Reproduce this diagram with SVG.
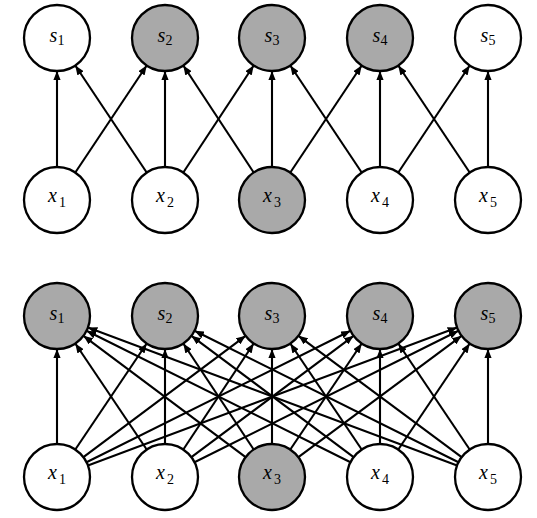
<svg xmlns="http://www.w3.org/2000/svg" width="537" height="518" viewBox="0 0 537 518">
<defs>
<marker id="ah" viewBox="0 0 10 8" refX="10" refY="4" markerWidth="4.5" markerHeight="3.6" markerUnits="strokeWidth" orient="auto">
<path d="M0,0 L10,4 L0,8 z" fill="#000"/>
</marker>
</defs>
<style>
.n{fill:#fff;stroke:#000;stroke-width:2.3}
.g{fill:#a9a9a9}
.e line{stroke:#000;stroke-width:2.1;marker-end:url(#ah)}
.t{font-family:'Liberation Serif',serif;font-size:20px;text-anchor:middle}
.v{font-style:italic}
.sub{font-size:14px}
</style>
<rect width="537" height="518" fill="#fff"/>
<g id="connectors" class="e">
<line x1="57" y1="167" x2="57" y2="71"/>
<line x1="75.3" y1="172.5" x2="146.7" y2="65.5"/>
<line x1="146.7" y1="172.5" x2="75.3" y2="65.5"/>
<line x1="165" y1="167" x2="165" y2="71"/>
<line x1="183.3" y1="172.5" x2="253.7" y2="65.5"/>
<line x1="253.7" y1="172.5" x2="183.3" y2="65.5"/>
<line x1="272" y1="167" x2="272" y2="71"/>
<line x1="290.3" y1="172.5" x2="361.7" y2="65.5"/>
<line x1="361.7" y1="172.5" x2="290.3" y2="65.5"/>
<line x1="380" y1="167" x2="380" y2="71"/>
<line x1="398.3" y1="172.5" x2="469.7" y2="65.5"/>
<line x1="469.7" y1="172.5" x2="398.3" y2="65.5"/>
<line x1="488" y1="167" x2="488" y2="71"/>

<line x1="57" y1="444" x2="57" y2="349"/>
<line x1="75.3" y1="449.5" x2="146.7" y2="343.5"/>
<line x1="83.4" y1="457.2" x2="245.6" y2="335.8"/>
<line x1="86.5" y1="462.2" x2="350.5" y2="330.8"/>
<line x1="87.9" y1="465.4" x2="457.1" y2="327.6"/>
<line x1="146.7" y1="449.5" x2="75.3" y2="343.5"/>
<line x1="165" y1="444" x2="165" y2="349"/>
<line x1="183.3" y1="449.5" x2="253.7" y2="343.5"/>
<line x1="191.4" y1="457.2" x2="353.6" y2="335.8"/>
<line x1="194.5" y1="462.2" x2="458.5" y2="330.8"/>
<line x1="245.6" y1="457.2" x2="83.4" y2="335.8"/>
<line x1="253.7" y1="449.5" x2="183.3" y2="343.5"/>
<line x1="272" y1="444" x2="272" y2="349"/>
<line x1="290.3" y1="449.5" x2="361.7" y2="343.5"/>
<line x1="298.4" y1="457.2" x2="461.6" y2="335.8"/>
<line x1="350.5" y1="462.2" x2="86.5" y2="330.8"/>
<line x1="353.6" y1="457.2" x2="191.4" y2="335.8"/>
<line x1="361.7" y1="449.5" x2="290.3" y2="343.5"/>
<line x1="380" y1="444" x2="380" y2="349"/>
<line x1="398.3" y1="449.5" x2="469.7" y2="343.5"/>
<line x1="457.1" y1="465.4" x2="87.9" y2="327.6"/>
<line x1="458.5" y1="462.2" x2="194.5" y2="330.8"/>
<line x1="461.6" y1="457.2" x2="298.4" y2="335.8"/>
<line x1="469.7" y1="449.5" x2="398.3" y2="343.5"/>
<line x1="488" y1="444" x2="488" y2="349"/>
</g>

<g id="top-s1"><circle class="n" cx="57" cy="38" r="33"/><text class="t" x="57" y="42"><tspan class="v">s</tspan><tspan class="sub" dy="3">1</tspan></text></g>
<g id="top-s2"><circle class="n g" cx="165" cy="38" r="33"/><text class="t" x="165" y="42"><tspan class="v">s</tspan><tspan class="sub" dy="3">2</tspan></text></g>
<g id="top-s3"><circle class="n g" cx="272" cy="38" r="33"/><text class="t" x="272" y="42"><tspan class="v">s</tspan><tspan class="sub" dy="3">3</tspan></text></g>
<g id="top-s4"><circle class="n g" cx="380" cy="38" r="33"/><text class="t" x="380" y="42"><tspan class="v">s</tspan><tspan class="sub" dy="3">4</tspan></text></g>
<g id="top-s5"><circle class="n" cx="488" cy="38" r="33"/><text class="t" x="488" y="42"><tspan class="v">s</tspan><tspan class="sub" dy="3">5</tspan></text></g>

<g id="top-x1"><circle class="n" cx="57" cy="200" r="33"/><text class="t" x="57" y="202"><tspan class="v">x</tspan><tspan class="sub" dx="2" dy="5">1</tspan></text></g>
<g id="top-x2"><circle class="n" cx="165" cy="200" r="33"/><text class="t" x="165" y="202"><tspan class="v">x</tspan><tspan class="sub" dx="2" dy="5">2</tspan></text></g>
<g id="top-x3"><circle class="n g" cx="272" cy="200" r="33"/><text class="t" x="272" y="202"><tspan class="v">x</tspan><tspan class="sub" dx="2" dy="5">3</tspan></text></g>
<g id="top-x4"><circle class="n" cx="380" cy="200" r="33"/><text class="t" x="380" y="202"><tspan class="v">x</tspan><tspan class="sub" dx="2" dy="5">4</tspan></text></g>
<g id="top-x5"><circle class="n" cx="488" cy="200" r="33"/><text class="t" x="488" y="202"><tspan class="v">x</tspan><tspan class="sub" dx="2" dy="5">5</tspan></text></g>

<g id="bot-s1"><circle class="n g" cx="57" cy="316" r="33"/><text class="t" x="57" y="320"><tspan class="v">s</tspan><tspan class="sub" dy="3">1</tspan></text></g>
<g id="bot-s2"><circle class="n g" cx="165" cy="316" r="33"/><text class="t" x="165" y="320"><tspan class="v">s</tspan><tspan class="sub" dy="3">2</tspan></text></g>
<g id="bot-s3"><circle class="n g" cx="272" cy="316" r="33"/><text class="t" x="272" y="320"><tspan class="v">s</tspan><tspan class="sub" dy="3">3</tspan></text></g>
<g id="bot-s4"><circle class="n g" cx="380" cy="316" r="33"/><text class="t" x="380" y="320"><tspan class="v">s</tspan><tspan class="sub" dy="3">4</tspan></text></g>
<g id="bot-s5"><circle class="n g" cx="488" cy="316" r="33"/><text class="t" x="488" y="320"><tspan class="v">s</tspan><tspan class="sub" dy="3">5</tspan></text></g>

<g id="bot-x1"><circle class="n" cx="57" cy="477" r="33"/><text class="t" x="57" y="479"><tspan class="v">x</tspan><tspan class="sub" dx="2" dy="5">1</tspan></text></g>
<g id="bot-x2"><circle class="n" cx="165" cy="477" r="33"/><text class="t" x="165" y="479"><tspan class="v">x</tspan><tspan class="sub" dx="2" dy="5">2</tspan></text></g>
<g id="bot-x3"><circle class="n g" cx="272" cy="477" r="33"/><text class="t" x="272" y="479"><tspan class="v">x</tspan><tspan class="sub" dx="2" dy="5">3</tspan></text></g>
<g id="bot-x4"><circle class="n" cx="380" cy="477" r="33"/><text class="t" x="380" y="479"><tspan class="v">x</tspan><tspan class="sub" dx="2" dy="5">4</tspan></text></g>
<g id="bot-x5"><circle class="n" cx="488" cy="477" r="33"/><text class="t" x="488" y="479"><tspan class="v">x</tspan><tspan class="sub" dx="2" dy="5">5</tspan></text></g>
</svg>
